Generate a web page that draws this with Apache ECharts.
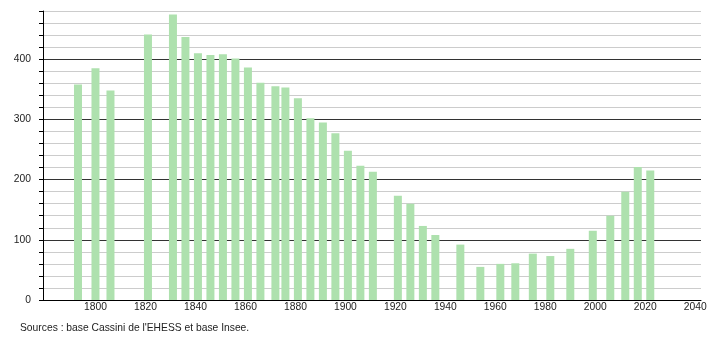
<!DOCTYPE html>
<html>
<head>
<meta charset="utf-8">
<script src="https://cdn.jsdelivr.net/npm/echarts@6/dist/echarts.min.js"></script>
<style>
html,body{margin:0;padding:0;background:#fff;}
#chart{width:710px;height:340px;}
</style>
</head>
<body>
<div id="chart"></div>
<script>
// Census years and population values
var years = [1793, 1800, 1806, 1821, 1831, 1836, 1841, 1846, 1851, 1856, 1861, 1866, 1872, 1876, 1881, 1886, 1891, 1896, 1901, 1906, 1911, 1921, 1926, 1931, 1936, 1946, 1954, 1962, 1968, 1975, 1982, 1990, 1999, 2006, 2012, 2017, 2022];
var population = [358, 385, 348, 441, 474, 437, 410, 407, 408, 401, 386, 361, 355, 353, 335, 302, 295, 277, 248, 223, 213, 173, 160, 123, 108, 92, 55, 60, 61, 77, 73, 85, 115, 140, 180, 221, 215];
var xTickLabels = [1800, 1820, 1840, 1860, 1880, 1900, 1920, 1940, 1960, 1980, 2000, 2020, 2040];
var yLabelValues = [0, 100, 200, 300, 400];
var sourceText = "Sources : base Cassini de l'EHESS et base Insee.";

var data = years.map(function (y, i) { return [y, population[i]]; });

var chart = echarts.init(document.getElementById('chart'), null, {renderer: 'canvas'});
var font = 'Liberation Sans, Arial, sans-serif';
chart.setOption({
  animation: false,
  backgroundColor: '#ffffff',
  grid: {left: 43, right: 9, top: 11, bottom: 40, containLabel: false},
  xAxis: {
    type: 'value',
    min: 1779,
    max: 2042.3,
    axisLine: {show: true, lineStyle: {color: '#000', width: 1}},
    axisTick: {show: false},
    splitLine: {show: false},
    axisLabel: {
      customValues: xTickLabels,
      margin: 2,
      color: '#222',
      fontSize: 10.3,
      fontFamily: font,
      formatter: function (v) { return String(v); }
    }
  },
  yAxis: {
    type: 'value',
    min: 0,
    max: 480,
    interval: 20,
    axisLine: {show: true, lineStyle: {color: '#000', width: 1}},
    axisTick: {show: true, length: 4, lineStyle: {color: '#000'}},
    splitLine: {
      show: true,
      lineStyle: {color: ['#333333', '#cccccc', '#cccccc', '#cccccc', '#cccccc'], width: 1}
    },
    axisLabel: {
      margin: 12,
      color: '#222',
      fontSize: 10.3,
      fontFamily: font,
      formatter: function (v) { return yLabelValues.indexOf(v) >= 0 ? String(v) : ''; }
    }
  },
  series: [{
    type: 'bar',
    data: data,
    barWidth: 8,
    itemStyle: {color: '#aee1ae'},
    z: 3
  }],
  graphic: [{
    type: 'text',
    left: 20,
    top: 323,
    style: {text: sourceText, fill: '#222', font: '10.3px ' + font}
  }]
});
</script>
</body>
</html>
